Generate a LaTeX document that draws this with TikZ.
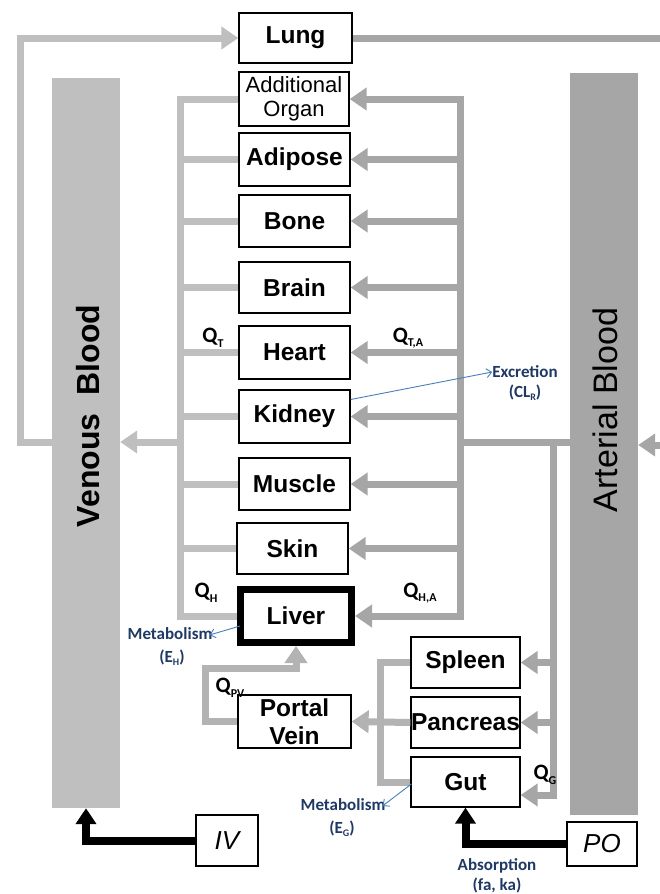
\documentclass[tikz,border=0pt]{standalone}
\usepackage{fontspec}
\setmainfont{Liberation Sans}
\newfontfamily\calib{Carlito}
\usetikzlibrary{arrows.meta,calc}
\definecolor{vgray}{HTML}{BFBFBF}
\definecolor{agray}{HTML}{A6A6A6}
\definecolor{pgray}{HTML}{B3B3B3}
\definecolor{navy}{HTML}{1F3864}
\definecolor{lblue}{HTML}{4A7EBB}
\newcommand\qsub[1]{\raisebox{-0.45ex}{\fontsize{12}{12}\selectfont #1}}
\newcommand\asub[1]{\raisebox{-0.4ex}{\fontsize{10}{10}\selectfont #1}}
\begin{document}
\begin{tikzpicture}[x=1pt,y=-1pt,
  organ/.style={draw, line width=1.3pt, fill=white, inner sep=0pt, align=center,
    font=\fontsize{24.5}{27}\selectfont\bfseries},
  vline/.style={draw=vgray, line width=7pt},
  aline/.style={draw=agray, line width=7pt},
  pline/.style={draw=pgray, line width=7pt},
  gtip/.style={-{Triangle[length=17pt,width=22pt]}},
  gtips/.style={{Triangle[length=17pt,width=22pt]}-{Triangle[length=17pt,width=22pt]}},
  ktip/.style={-{Triangle[length=16pt,width=20pt]}},
  kline/.style={draw=black, line width=8pt},
  qlab/.style={font=\calib\bfseries\fontsize{22}{22}\selectfont, inner sep=0pt},
  ann/.style={font=\calib\bfseries\fontsize{17}{19}\selectfont, text=navy, inner sep=0pt, align=center},
  barrow/.style={draw=lblue, line width=0.9pt, -{Straight Barb[length=5pt,width=9pt]}},
  bar/.style={inner sep=0pt, draw=none}
]
\useasboundingbox (0,0) rectangle (660,894);

% blood bars
\node[bar, fill=vgray, minimum width=68pt, minimum height=730pt] (venous) at (86,443) {};
\node[bar, fill=agray, minimum width=68pt, minimum height=742pt] (arterial) at (604,444) {};
\node[rotate=90, font=\fontsize{32}{32}\selectfont\bfseries] (vtext) at (88,416) {Venous\ \ Blood};
\node[rotate=90, font=\fontsize{34}{34}\selectfont] (atext) at (605,410) {Arterial Blood};

% organ boxes
\node[organ, minimum width=113pt, minimum height=50pt] (lung) at (295.5,38) {Lung};
\node[organ, minimum width=110pt, minimum height=54pt, font=\fontsize{22}{24}\selectfont] (addorg) at (294,99) {Additional\\Organ};
\node[organ, minimum width=111pt, minimum height=53pt] (adipose) at (294.5,159.5) {Adipose};
\node[organ, minimum width=111pt, minimum height=52pt] (bone) at (294.5,221) {Bone};
\node[organ, minimum width=111pt, minimum height=51pt] (brain) at (294.5,287.5) {Brain};
\node[organ, minimum width=111pt, minimum height=53pt] (heart) at (294.5,352.5) {Heart};
\node[organ, minimum width=111pt, minimum height=53pt] (kidney) at (294.5,416.5) {Kidney};
\node[organ, minimum width=111pt, minimum height=52pt] (muscle) at (294.5,484) {Muscle};
\node[organ, minimum width=111pt, minimum height=51pt] (skin) at (292.5,548.5) {Skin};
\node[organ, line width=7pt, minimum width=111pt, minimum height=53pt] (liver) at (296,616) {Liver};
\node[organ, minimum width=113pt, minimum height=53pt, font=\fontsize{24.5}{28}\selectfont\bfseries] (portal) at (294.5,721.5) {Portal\\Vein};
\node[organ, minimum width=109pt, minimum height=51pt] (spleen) at (465.5,662.5) {Spleen};
\node[organ, minimum width=109pt, minimum height=51pt] (pancreas) at (465.5,722.5) {Pancreas};
\node[organ, minimum width=109pt, minimum height=50pt] (gut) at (465.5,782) {Gut};
\node[organ, minimum width=62pt, minimum height=51pt, font=\fontsize{26}{26}\selectfont\itshape] (iv) at (227,840.5) {IV};
\node[organ, minimum width=70pt, minimum height=44pt, font=\fontsize{26}{26}\selectfont\itshape] (po) at (602,844) {PO};

% helper coordinates
\coordinate (vlx) at (180,0);
\coordinate (vrx) at (460,0);
\coordinate (arx) at (553,0);
\coordinate (pvx) at (380,0);
\coordinate (lungx) at (20,0);
\coordinate (midy) at (0,442);
\coordinate (arty) at (0,445);
\coordinate (gutin) at (0,795);
\coordinate (pa) at (205,668);
\coordinate (redge) at (660,0);

% venous collector
\draw[vline] (addorg.west) -| (vlx |- liver.west) -- (liver.west);
\foreach \o in {adipose,bone,brain,heart,kidney,muscle,skin}
  \draw[vline] (vlx |- \o.west) -- (\o.west);
\draw[vline, gtip] (vlx |- midy) -- (venous.east |- midy);

% lung loop
\draw[vline, gtip] (venous.west |- midy) -| (lungx |- lung.west) -- (lung.west);
\draw[aline] (lung.east) -- (redge |- lung.east);
\draw[aline, gtip] (redge |- arty) -- (arterial.east |- arty);

% arterial distributor
\draw[aline, gtips] (liver.east) -| (vrx |- addorg.east) -- (addorg.east);
\foreach \o in {adipose,bone,brain,heart,kidney,muscle,skin}
  \draw[aline, gtip] (vrx |- \o.east) -- (\o.east);
\draw[aline] (arterial.west |- midy) -- (vrx |- midy);
\draw[aline, gtip] (arx |- midy) -- (arx |- gutin) -- (gut.east |- gutin);
\draw[aline, gtip] (arx |- spleen.east) -- (spleen.east);
\draw[aline, gtip] (arx |- pancreas.east) -- (pancreas.east);

% portal system
\draw[pline] (spleen.west) -| (pvx |- gut.west) -- (gut.west);
\draw[pline, gtip] (pancreas.west) -- (portal.east);
\draw[pline, gtip] (portal.west) -| (pa) -| (liver.south);

% dosing
\draw[kline, ktip] (iv.west) -| (venous.south);
\draw[kline, ktip] (po.west) -| (gut.south);

% flow labels
\node[qlab] (qt) at (213,338) {Q\qsub{T}};
\node[qlab] (qta) at (408,338) {Q\qsub{T,A}};
\node[qlab] (qh) at (206,593) {Q\qsub{H}};
\node[qlab] (qha) at (420,593) {Q\qsub{H,A}};
\node[qlab] (qpv) at (230,688) {Q\qsub{PV}};
\node[qlab] (qg) at (545,775) {Q\qsub{G}};

% annotations
\node[ann] (exc) at (525,372) {Excretion};
\node[ann] (excr) at (525,393) {(CL\asub{R})};
\draw[barrow] ($(kidney.east)+(0,-17)$) -- (exc.west);
\node[ann] (meth) at (170,634) {Metabolism};
\node[ann] (methr) at (172,658) {(E\asub{H})};
\draw[barrow] ($(liver.west)+(3,10)$) -- ($(meth.east)+(-3,1)$);
\node[ann] (metg) at (343,805) {Metabolism};
\node[ann] (metgr) at (342,829) {(E\asub{G})};
\draw[barrow] ($(gut.west)+(1,2)$) -- ($(metg.east)+(-3,1)$);
\node[ann] (abs) at (497,866) {Absorption};
\node[ann] (absr) at (497,885) {(fa, ka)};
\end{tikzpicture}
\end{document}
